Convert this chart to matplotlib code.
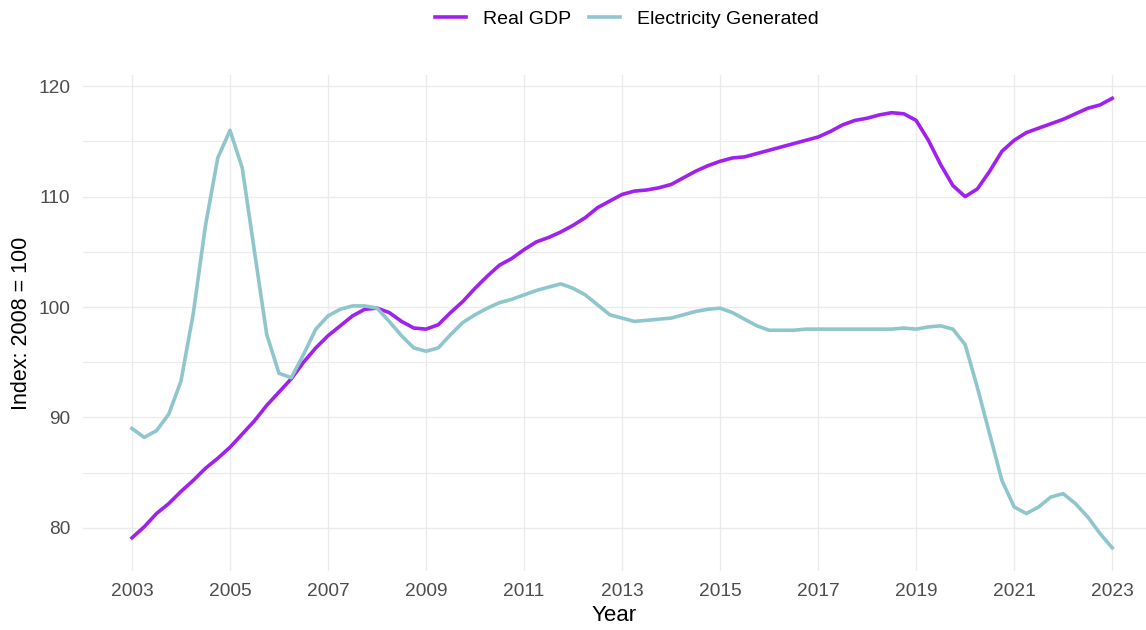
import numpy as np
import matplotlib
matplotlib.use("Agg")
import matplotlib.pyplot as plt

plt.rcParams['font.family'] = ['Liberation Sans', 'DejaVu Sans']

# quarterly points, 2003 Q1 .. 2023 Q1
years = np.arange(2003, 2023.01, 0.25)

real_gdp = [
    79.1, 80.1, 81.3, 82.2,
    83.3, 84.3, 85.4, 86.3,
    87.3, 88.5, 89.7, 91.1,
    92.3, 93.5, 95.0, 96.3,
    97.4, 98.3, 99.2, 99.8,
    99.9, 99.5, 98.7, 98.1,
    98.0, 98.4, 99.5, 100.5,
    101.7, 102.8, 103.8, 104.4,
    105.2, 105.9, 106.3, 106.8,
    107.4, 108.1, 109.0, 109.6,
    110.2, 110.5, 110.6, 110.8,
    111.1, 111.7, 112.3, 112.8,
    113.2, 113.5, 113.6, 113.9,
    114.2, 114.5, 114.8, 115.1,
    115.4, 115.9, 116.5, 116.9,
    117.1, 117.4, 117.6, 117.5,
    116.9, 115.1, 112.9, 111.0,
    110.0, 110.7, 112.3, 114.1,
    115.1, 115.8, 116.2, 116.6,
    117.0, 117.5, 118.0, 118.3,
    118.9,
]

electricity = [
    89.0, 88.2, 88.8, 90.3,
    93.3, 99.4, 107.4, 113.5,
    116.0, 112.6, 105.0, 97.5,
    94.0, 93.6, 95.7, 98.0,
    99.2, 99.8, 100.1, 100.1,
    99.9, 98.7, 97.4, 96.3,
    96.0, 96.3, 97.5, 98.6,
    99.3, 99.9, 100.4, 100.7,
    101.1, 101.5, 101.8, 102.1,
    101.7, 101.1, 100.2, 99.3,
    99.0, 98.7, 98.8, 98.9,
    99.0, 99.3, 99.6, 99.8,
    99.9, 99.5, 98.9, 98.3,
    97.9, 97.9, 97.9, 98.0,
    98.0, 98.0, 98.0, 98.0,
    98.0, 98.0, 98.0, 98.1,
    98.0, 98.2, 98.3, 98.0,
    96.6, 92.7, 88.5, 84.3,
    81.9, 81.3, 81.9, 82.8,
    83.1, 82.2, 81.0, 79.5,
    78.2,
]

x_ticks = list(range(2003, 2024, 2))
y_ticks = [80, 90, 100, 110, 120]
y_minor = [85, 95, 105, 115]

fig = plt.figure(figsize=(11.46, 6.3), dpi=100)
ax = fig.add_axes([0.0724, 0.0937, 0.9276, 0.787])

ax.plot(years, real_gdp, color='#A020F0', lw=2.6, label='Real GDP', zorder=3)
ax.plot(years, electricity, color='#8EC6CC', lw=2.6, label='Electricity Generated', zorder=3)

ax.set_xlim(2002.0, 2023.69)
ax.set_ylim(76.1, 121.0)
ax.set_xticks(x_ticks)
ax.set_yticks(y_ticks)
ax.set_yticks(y_minor, minor=True)
ax.grid(True, which='major', color='#EBEBEB', lw=1.0)
ax.grid(True, which='minor', axis='y', color='#EBEBEB', lw=0.8)
ax.set_axisbelow(True)
for s in ax.spines.values():
    s.set_visible(False)
ax.tick_params(which='both', length=0, labelsize=13.8, colors='#4D4D4D')
ax.tick_params(axis='x', pad=9)
ax.tick_params(axis='y', pad=9)

ax.set_xlabel('Year', fontsize=16, color='black', labelpad=3)
ax.set_ylabel('Index: 2008 = 100', fontsize=15.5, color='black', labelpad=5)

fig.legend(loc='center', bbox_to_anchor=(0.547, 0.97), ncol=2, frameon=False,
           fontsize=14, handlelength=1.6, handletextpad=0.87, columnspacing=0.95)

fig.savefig('out.png', dpi=100)
